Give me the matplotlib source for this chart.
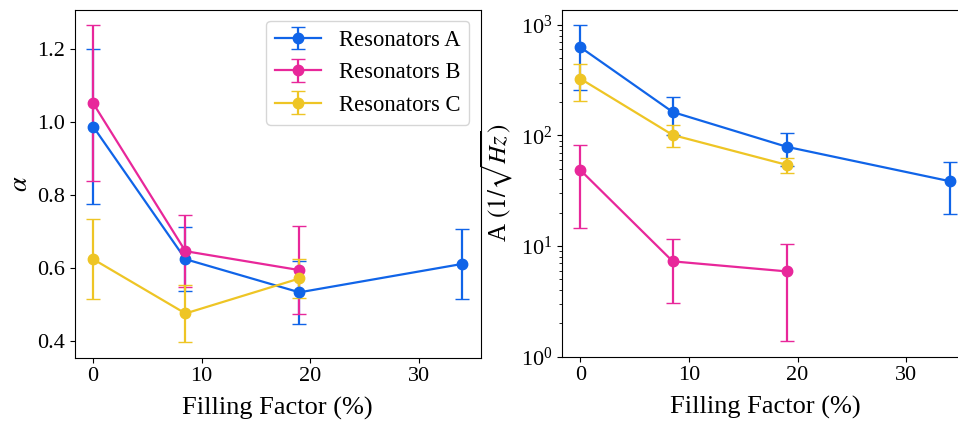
from matplotlib import pyplot as plt
import numpy as np

plt.rcParams["font.family"] = ["Liberation Serif", "DejaVu Serif"]
plt.rcParams["mathtext.fontset"] = "stix"
plt.rcParams["font.size"] = 16

# filling factor (%) for each resonator group
ff_a = [0, 8.5, 19, 34]
ff_b = [0, 8.5, 19]
ff_c = [0, 8.5, 19]

# exponent alpha with uncertainty
alpha_a = [0.988, 0.624, 0.533, 0.611]
alpha_a_err = [0.213, 0.087, 0.087, 0.096]
alpha_b = [1.052, 0.646, 0.594]
alpha_b_err = [0.214, 0.098, 0.120]
alpha_c = [0.624, 0.475, 0.571]
alpha_c_err = [0.110, 0.078, 0.053]

# amplitude A (1/sqrt(Hz)) with uncertainty
amp_a = [628, 163, 79, 38.6]
amp_a_err = [372, 61, 26, 19]
amp_b = [48.5, 7.26, 5.89]
amp_b_err = [34, 4.2, 4.5]
amp_c = [326, 101, 54.2]
amp_c_err = [120, 23, 8.7]

colors = {"A": "#1064E8", "B": "#E8279A", "C": "#EEC525"}

fig = plt.figure(figsize=(9.58, 4.21), dpi=100)
ax1 = fig.add_axes([74.7 / 958, 1 - 357.7 / 421, 406 / 958, 348.2 / 421])
ax2 = fig.add_axes([562 / 958, 1 - 356.5 / 421, 406 / 958, 347 / 421])

style = dict(marker="o", markersize=7.5, linewidth=1.6, capsize=5, elinewidth=1.6)

ax1.errorbar(ff_a, alpha_a, yerr=alpha_a_err, color=colors["A"], label="Resonators A", **style)
ax1.errorbar(ff_b, alpha_b, yerr=alpha_b_err, color=colors["B"], label="Resonators B", **style)
ax1.errorbar(ff_c, alpha_c, yerr=alpha_c_err, color=colors["C"], label="Resonators C", **style)
ax1.set_xlabel("Filling Factor (%)", fontsize=19, labelpad=7.5)
ax1.set_ylabel(r"$\alpha$", fontsize=19)
ax1.set_yticks([0.4, 0.6, 0.8, 1.0, 1.2])
ax1.legend(loc="upper right", fontsize=16.3)

ax2.errorbar(ff_a, amp_a, yerr=amp_a_err, color=colors["A"], **style)
ax2.errorbar(ff_b, amp_b, yerr=amp_b_err, color=colors["B"], **style)
ax2.errorbar(ff_c, amp_c, yerr=amp_c_err, color=colors["C"], **style)
ax2.set_yscale("log")
ax2.set_ylim(1, 1380)
ax2.set_xlabel("Filling Factor (%)", fontsize=19, labelpad=7.5)
ax2.set_ylabel(r"A $(1/\sqrt{Hz})$", fontsize=18)

for ax in (ax1, ax2):
    ax.set_xticks([0, 10, 20, 30])

plt.savefig("out.png", dpi=100)
